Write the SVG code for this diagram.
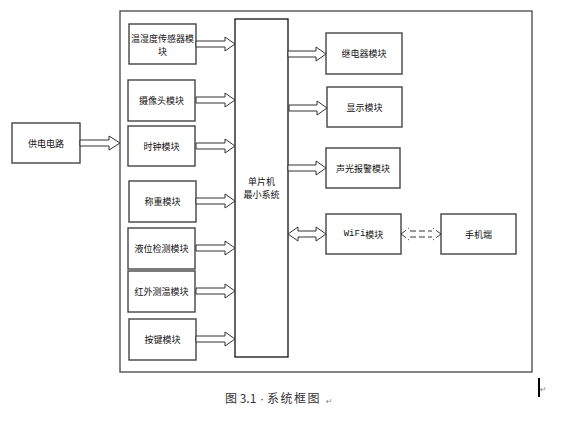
<svg xmlns="http://www.w3.org/2000/svg" width="571" height="440" viewBox="0 0 571 440">
<style>
.box{fill:#fff;stroke:#444;stroke-width:1.4}
.mcu{fill:#fff;stroke:#111;stroke-width:1.3}
.frame{fill:#fff;stroke:#444;stroke-width:1.3}
.t{font-family:"Noto Sans CJK SC","Liberation Sans",sans-serif;font-size:9px;fill:#111;text-anchor:middle;dominant-baseline:central}
.arr{fill:#fff;stroke:#333;stroke-width:1}
.dash{fill:none;stroke:#333;stroke-width:1;stroke-dasharray:6 3}
.cap{font-family:"Noto Sans CJK SC","Liberation Sans",sans-serif;font-size:12px;fill:#333}
</style>
<defs>
<path id="a39" d="M-39,-3 H-10 V-7 L0,0 L-10,7 V3 H-39 Z"/>
<path id="a38" d="M-38,-3 H-10 V-7 L0,0 L-10,7 V3 H-38 Z"/>
</defs>
<g id="frame"><rect class="frame" x="120" y="11" width="412" height="361"/></g>
<g id="power"><rect class="box" x="12" y="123" width="68" height="40"/><text class="t" x="46" y="143">供电电路</text></g>
<g id="m-temp"><rect class="box" x="129" y="24" width="67" height="40"/><text class="t" x="162.5" y="38">温湿度传感器模</text><text class="t" x="162.5" y="51">块</text></g>
<g id="m-camera"><rect class="box" x="128" y="80" width="67" height="41"/><text class="t" x="161.5" y="100.5">摄像头模块</text></g>
<g id="m-clock"><rect class="box" x="128" y="126" width="67" height="40"/><text class="t" x="161.5" y="146">时钟模块</text></g>
<g id="m-weigh"><rect class="box" x="129" y="181" width="67" height="41"/><text class="t" x="162.5" y="201.5">称重模块</text></g>
<g id="m-level"><rect class="box" x="128" y="228" width="67" height="41"/><text class="t" x="161.5" y="248.5">液位检测模块</text></g>
<g id="m-ir"><rect class="box" x="128" y="271" width="67" height="41"/><text class="t" x="161.5" y="291.5">红外测温模块</text></g>
<g id="m-key"><rect class="box" x="129" y="319" width="67" height="41"/><text class="t" x="162.5" y="339.5">按键模块</text></g>
<g id="mcu"><rect class="mcu" x="235" y="19" width="53" height="338"/><text class="t" x="261.5" y="181">单片机</text><text class="t" x="261.5" y="194">最小系统</text></g>
<g id="m-relay"><rect class="box" x="326" y="33" width="76" height="41"/><text class="t" x="364" y="53.5">继电器模块</text></g>
<g id="m-display"><rect class="box" x="327" y="87" width="75" height="40"/><text class="t" x="364.5" y="107">显示模块</text></g>
<g id="m-alarm"><rect class="box" x="326" y="148" width="74" height="40"/><text class="t" x="363" y="168">声光报警模块</text></g>
<g id="m-wifi"><rect class="box" x="326" y="214" width="75" height="40"/><text class="t" x="363.5" y="234"><tspan font-family="Liberation Mono,monospace">WiFi</tspan>模块</text></g>
<g id="phone"><rect class="box" x="441" y="214" width="75" height="40"/><text class="t" x="478.5" y="234">手机端</text></g>
<g id="connectors">
<path class="arr" d="M80,140 H109 V136 L120,143 L109,150 V146 H80 Z"/>
<use href="#a39" class="arr" transform="translate(235,44)"/>
<use href="#a39" class="arr" transform="translate(235,100)"/>
<use href="#a39" class="arr" transform="translate(235,146)"/>
<use href="#a39" class="arr" transform="translate(235,201)"/>
<use href="#a39" class="arr" transform="translate(235,248)"/>
<use href="#a39" class="arr" transform="translate(235,291)"/>
<use href="#a39" class="arr" transform="translate(235,339)"/>
<use href="#a38" class="arr" transform="translate(326,54)"/>
<use href="#a38" class="arr" transform="translate(327,108)"/>
<use href="#a38" class="arr" transform="translate(326,168)"/>
<path class="arr" d="M288,234 L298,227 V231 H316 V227 L326,234 L316,241 V237 H298 V241 Z"/>
<path class="dash" d="M401,234 L409,228 M410,231 H432 M410,237 H432 M401,234 L409,240 M441,234 L433,228 M441,234 L433,240"/>
</g>
<g id="caption"><text class="cap" x="225" y="403">图 3.1<tspan x="260" font-family="Liberation Sans,sans-serif">·</tspan><tspan x="267" letter-spacing="1.5">系统框图</tspan></text><text x="326" y="404" font-family="DejaVu Sans,sans-serif" font-size="8" fill="#888">↵</text></g>
<g id="cursor"><rect x="538" y="378" width="2" height="19" fill="#000"/><text x="540" y="392" font-family="DejaVu Sans,sans-serif" font-size="8" fill="#888">↵</text></g>
</svg>
